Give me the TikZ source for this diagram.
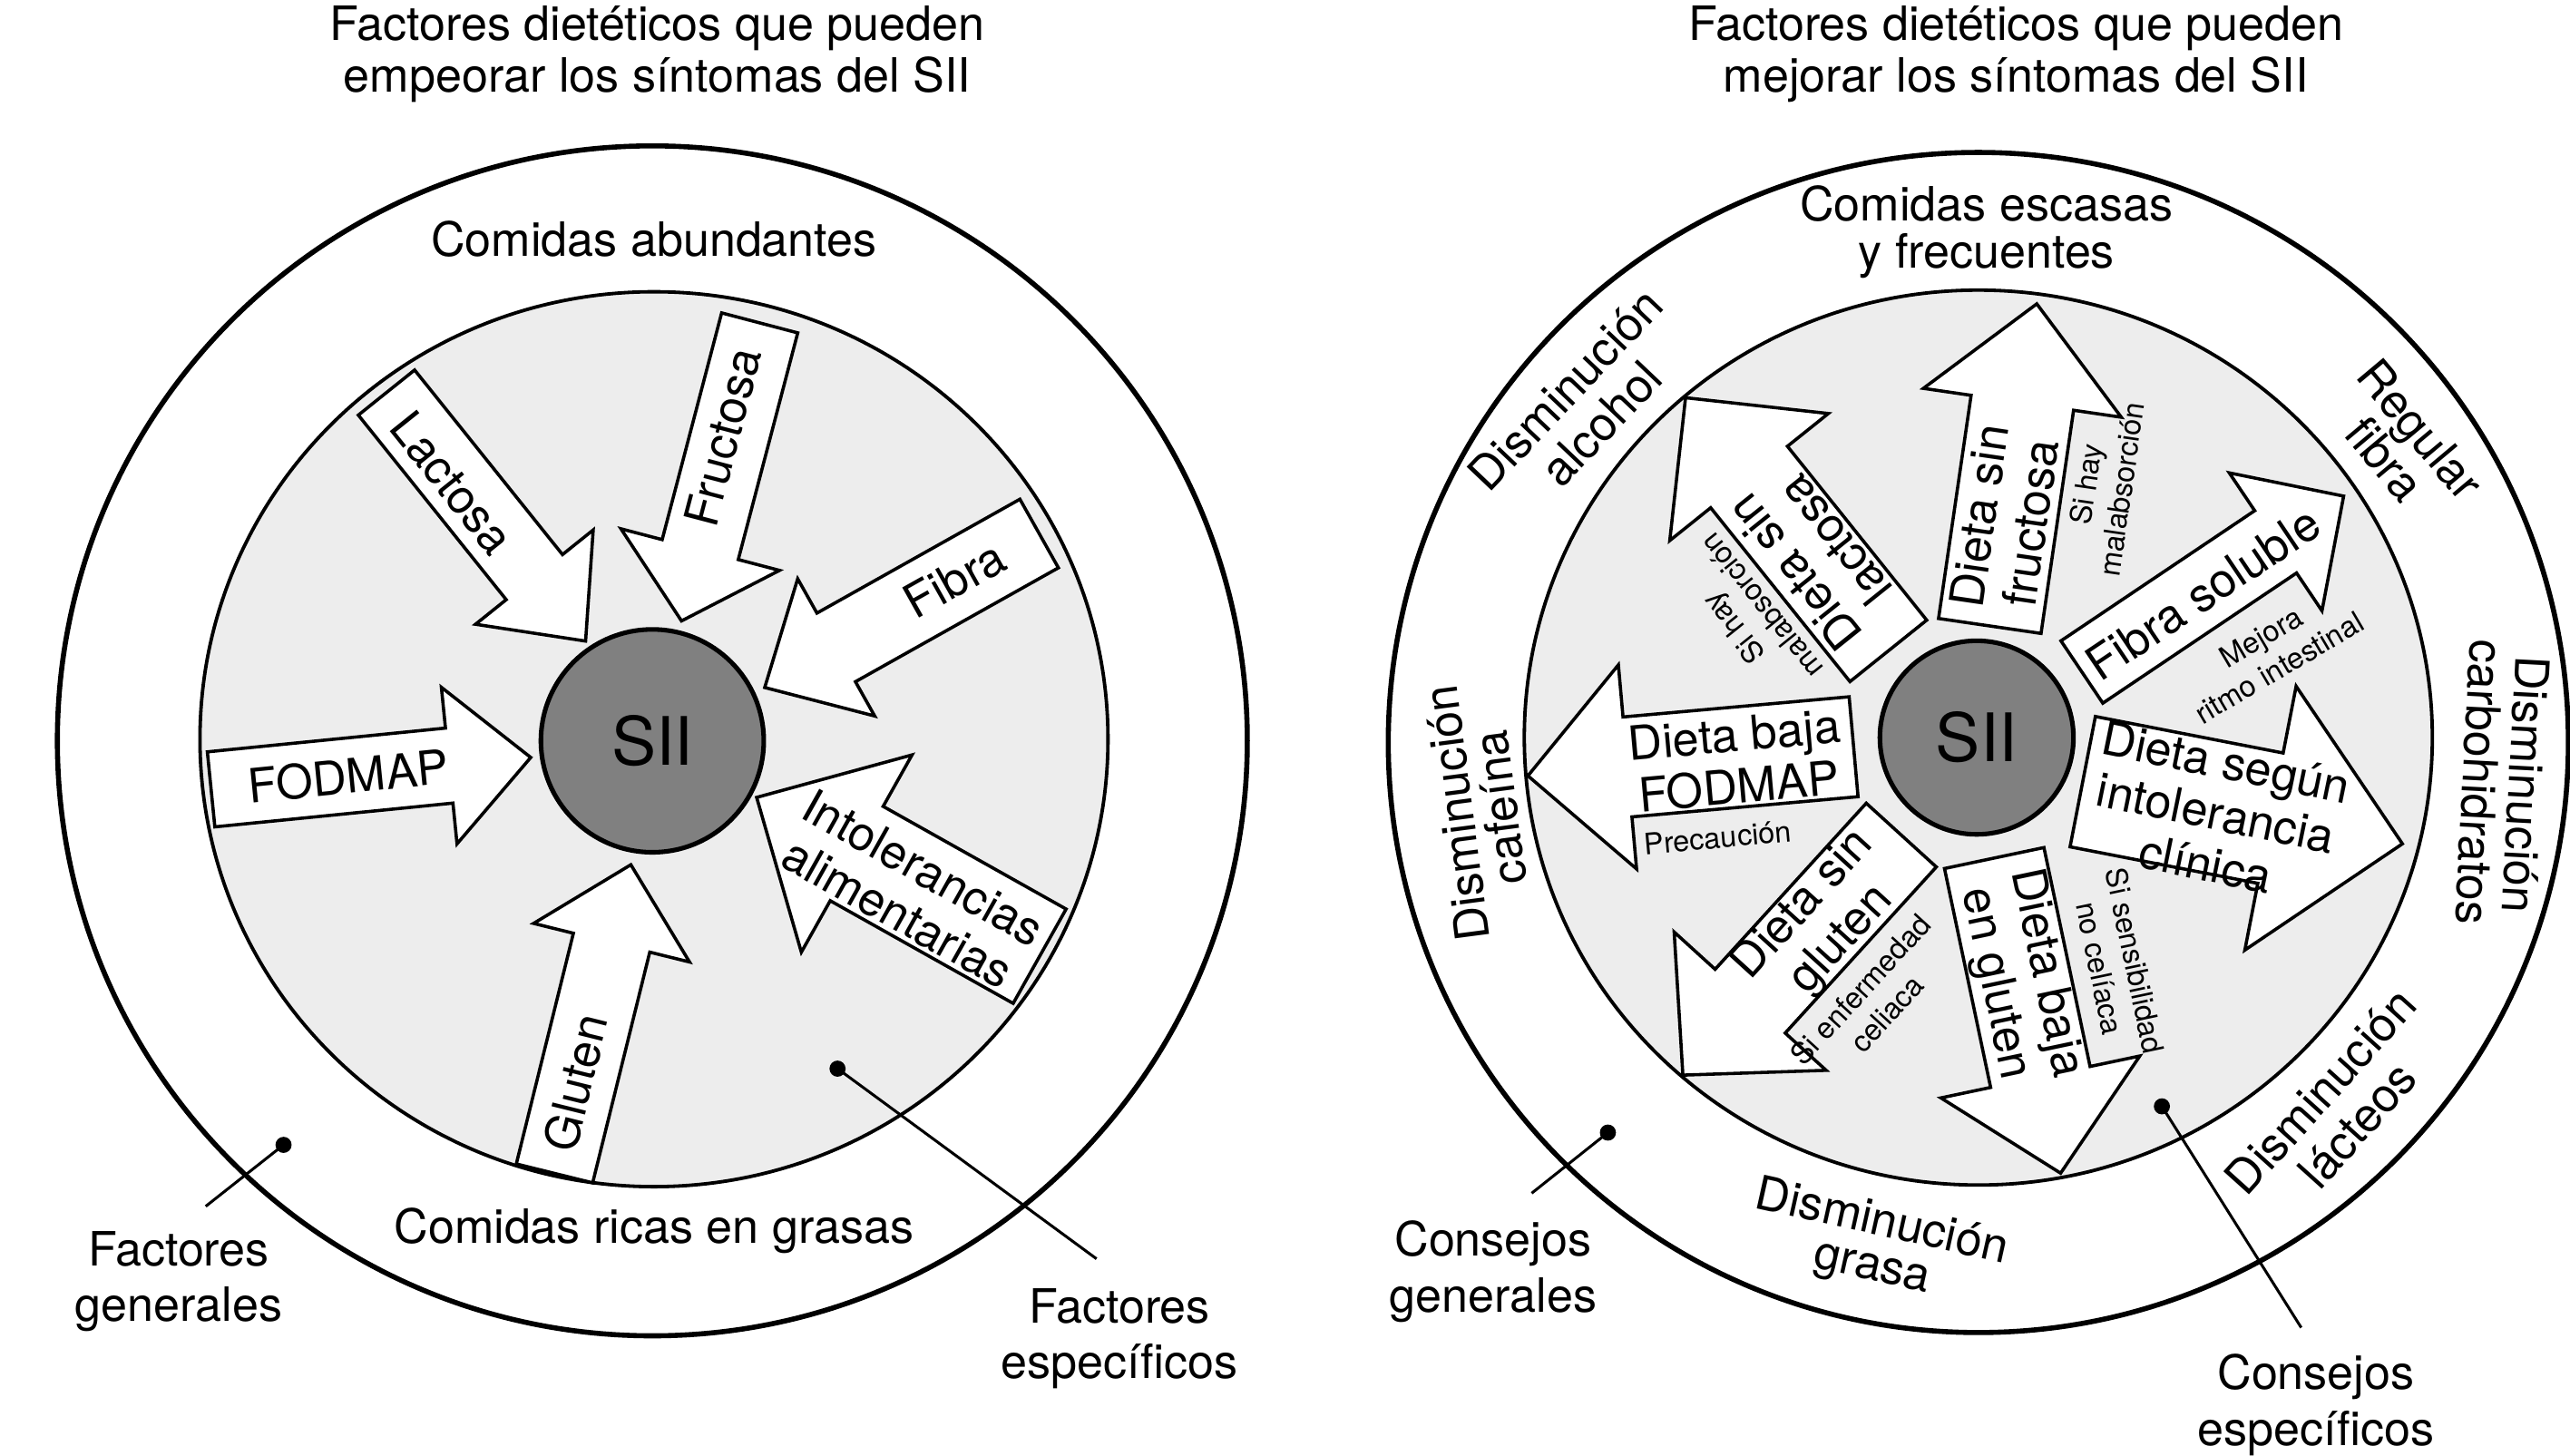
\documentclass[tikz,border=0pt]{standalone}
\usepackage{fontspec}
\setmainfont{TeX Gyre Heros}
\newcommand{\fatarrow}[6]{%
  \draw[fat, shift={(#1)}, rotate=#2] (0,-#4) -- ({#3-#6},-#4) -- ({#3-#6},-#5) -- (#3,0) -- ({#3-#6},#5) -- ({#3-#6},#4) -- (0,#4) -- cycle;}
\begin{document}
\begin{tikzpicture}[x=0.025cm,y=-0.025cm,
  txt/.style={font=\fontsize{20.5}{22.5}\selectfont, align=center, inner sep=0pt},
  ringtxt/.style={align=center, inner sep=0pt, font=\fontsize{20.5}{#1}\selectfont},
  small/.style={font=\fontsize{12.8}{15.5}\selectfont, align=center, inner sep=0pt},
  big/.style={font=\fontsize{29}{32}\selectfont, inner sep=0pt},
  ring/.style={line width=2.2pt},
  innerdisc/.style={line width=1.5pt, fill=black!7},
  core/.style={circle, line width=2pt, draw=black, fill=black!50, big},
  fat/.style={line width=1.4pt, fill=white, line join=miter},
  dotnode/.style={circle, fill=black, inner sep=0pt, minimum size=7pt},
  lead/.style={line width=1.2pt}]
\useasboundingbox (0,0) rectangle (1568,888);
\fill[white] (0,0) rectangle (1568,888);

% ================= LEFT DIAGRAM =================
\node[txt, anchor=north] (titleL) at (401,3.5) {Factores dietéticos que pueden\\empeorar los síntomas del SII};
\draw[ring] (398,452) circle[radius=363];
\draw[innerdisc] (399,451) circle[x radius=277, y radius=273];

\fatarrow{235.8,239.5}{-51.3}{194.3}{22}{46}{50}
\fatarrow{463.5,197}{-104.7}{188}{24}{50}{45}
\fatarrow{634,325.5}{-150.7}{192}{24}{48}{50}
\fatarrow{128.8,481.6}{5.7}{196}{23}{48}{50}
\fatarrow{338.3,715.9}{76.1}{194}{24}{49}{49}
\fatarrow{634.3,583.4}{150.7}{198}{33}{69}{70}

\node[core, minimum size=96.7pt] (siiL) at (398,452) {SII};

\node[txt, rotate=-51.3] (tLac) at (276,294.5) {Lactosa};
\node[txt, rotate=75.3] (tFru) at (441,266.5) {Fructosa};
\node[txt, rotate=29.3] (tFib) at (582.5,353.5) {Fibra};
\node[txt, rotate=5.7] (tFod) at (212.5,473.4) {FODMAP};
\node[txt, rotate=76.1] (tGlu) at (351,660.5) {Gluten};
\node[txt, rotate=-29.3] (tInt) at (555.6,543.2) {Intolerancias\\alimentarias};

\node[txt] (abund) at (399,146) {Comidas abundantes};
\node[txt] (grasas) at (399,751) {Comidas ricas en grasas};

\node[dotnode] (dFG) at (173,698.5) {};
\coordinate (eFG) at (125.5,736);
\draw[lead] (dFG.center) -- (eFG);
\node[ringtxt=24pt] (lFG) at (109,782) {Factores\\generales};

\node[dotnode] (dFE) at (511,652) {};
\coordinate (eFE) at (669,768);
\draw[lead] (dFE.center) -- (eFE);
\node[ringtxt=24pt] (lFE) at (683,817) {Factores\\específicos};

% ================= RIGHT DIAGRAM =================
\node[txt, anchor=north] (titleR) at (1230,3.5) {Factores dietéticos que pueden\\mejorar los síntomas del SII};
\draw[ring] (1207,453) circle[radius=360];
\draw[innerdisc] (1207,450) circle[x radius=277, y radius=273];

\fatarrow{1152.1,397.1}{128.7}{197.9}{30}{62}{62}
\fatarrow{1214,381.9}{81.7}{198.6}{31.6}{61}{61}
\fatarrow{1270.2,410}{33.9}{192.4}{22.9}{50.7}{50}
\fatarrow{1270.7,476.9}{-11}{198.7}{40.5}{82}{82}
\fatarrow{1216.7,523.5}{-78.1}{196.5}{31}{62}{60}
\fatarrow{1160,509.5}{-132.3}{198}{28.9}{62.7}{61}
\fatarrow{1130.9,455.6}{185.1}{199.5}{30.6}{62.5}{61}

\node[core, minimum size=84pt] (siiR) at (1206,450) {SII};

\node[txt, rotate=128.7] (rLac) at (1106.9,339.5) {Dieta sin\\lactosa};
\node[small, rotate=128.7] (sLac) at (1066,376.7) {Si hay\\malabsorción};
\node[txt, rotate=81.7] (rFru) at (1223.2,317) {Dieta sin\\fructosa};
\node[small, rotate=81.7] (sFru) at (1283.5,297) {Si hay\\malabsorción};
\node[txt, rotate=33.9] (rFib) at (1344,362) {Fibra soluble};
\node[small, rotate=30.5] (sFib) at (1385,398) {Mejora\\ritmo intestinal};
\node[txt, rotate=-11.5] (rInt) at (1352,496) {Dieta según\\intolerancia\\clínica};
\node[txt, rotate=-78.1] (rBaj) at (1232.5,597) {Dieta baja\\en gluten};
\node[small, rotate=-78.1] (sBaj) at (1292,588.5) {Si sensibilidad\\no celíaca};
\node[txt, rotate=47.7] (rSin) at (1112,563) {Dieta sin\\gluten};
\node[small, rotate=47.7] (sSin) at (1143,611) {Si enfermedad\\celiaca};
\node[txt, rotate=5.1] (rFod) at (1059.5,464) {Dieta baja\\FODMAP};
\node[small, rotate=5.1] (sFod) at (1048,511) {Precaución};

\node[ringtxt=20.8pt] (escasas) at (1212,141.5) {Comidas escasas\\y frecuentes};
\node[ringtxt=21.5pt, rotate=46.5] (alcohol) at (966,248) {Disminución\\alcohol};
\node[ringtxt=20pt, rotate=-50] (regfib) at (1466,271) {Regular\\fibra};
\node[ringtxt=20pt, rotate=-93] (carbo) at (1527,478) {Disminución\\carbohidratos};
\node[ringtxt=21.5pt, rotate=48] (lacteos) at (1427,676) {Disminución\\lácteos};
\node[ringtxt=19.5pt, rotate=-12.5] (grasa) at (1145,760) {Disminución\\grasa};
\node[ringtxt=19pt, rotate=97.5] (cafeina) at (902,494.5) {Disminución\\cafeína};

\node[dotnode] (dCG) at (981,691) {};
\coordinate (eCG) at (934.5,728);
\draw[lead] (dCG.center) -- (eCG);
\node[ringtxt=24.5pt] (lCG) at (911,776) {Consejos\\generales};

\node[dotnode] (dCE) at (1319,675) {};
\coordinate (eCE) at (1404,810);
\draw[lead] (dCE.center) -- (eCE);
\node[ringtxt=24.5pt] (lCE) at (1413,857) {Consejos\\específicos};
\end{tikzpicture}
\end{document}
